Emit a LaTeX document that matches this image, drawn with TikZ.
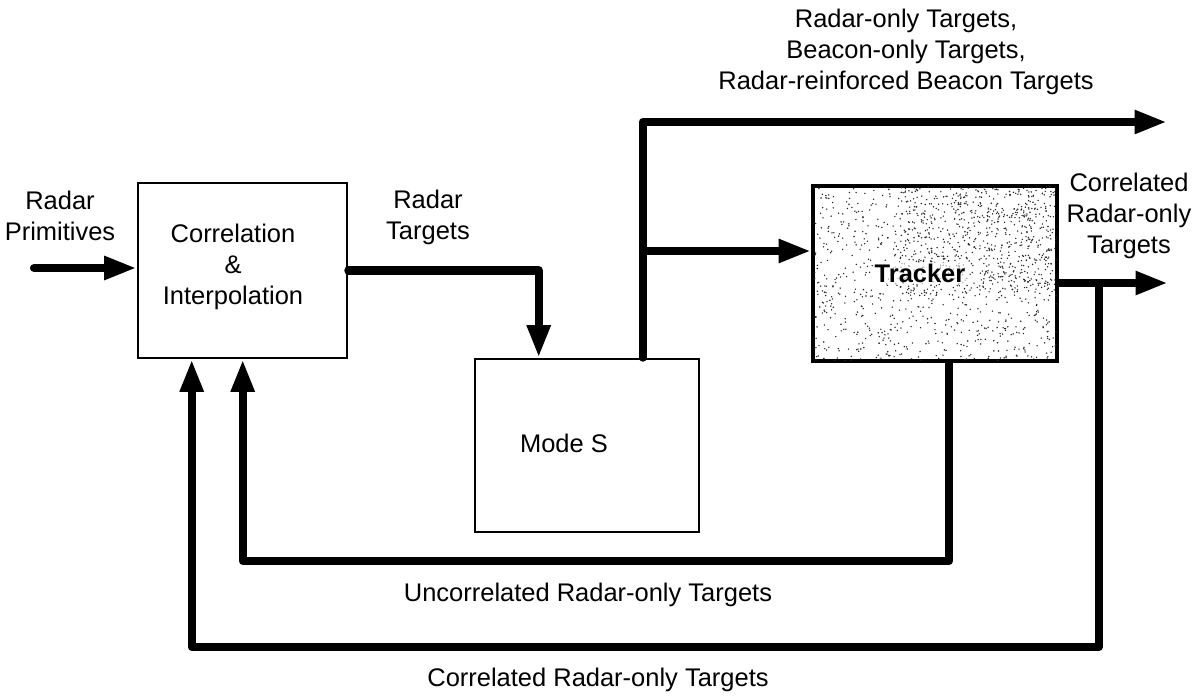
\documentclass[tikz,border=0pt]{standalone}
\usepackage{fontspec}
\setmainfont{Liberation Sans}
\usetikzlibrary{arrows.meta,calc}
\begin{document}
\begin{tikzpicture}[x=0.02cm,y=-0.02cm,
  every node/.style={font=\fontsize{14.5pt}{17.6pt}\selectfont},
  box/.style={draw,line width=1.5pt,inner sep=0pt,fill=white},
  txt/.style={align=center,inner sep=0pt},
  conn/.style={line width=4.6pt,line cap=round,line join=round},
  tip/.style={-{Triangle[length=0.65cm,width=0.44cm]}}]
\useasboundingbox (0,0) rectangle (1197,696);
% boxes
\node[box,minimum width=4.18cm,minimum height=3.5cm] (ci) at (242.5,270.5) {};
\node[box,minimum width=4.48cm,minimum height=3.46cm] (ms) at (587,445.5) {};
\node[box,line width=2.2pt,minimum width=4.88cm,minimum height=3.5cm] (tr) at (935,273.5) {};
% stipple inside tracker
\begin{scope}
  \clip ($(tr.south west)+(2,-2)$) rectangle ($(tr.north east)+(-2,2)$);
  \pgfmathsetseed{12}
  \foreach \i in {1,...,900} {
    \pgfmathsetmacro{\px}{813+244*rnd}
    \pgfmathsetmacro{\py}{186+175*rnd}
    \fill[black!85] (\px,\py) circle[radius=0.45pt];
  }
  \foreach \i in {1,...,500} {
    \pgfmathsetmacro{\px}{900+157*rnd}
    \pgfmathsetmacro{\py}{186+110*rnd}
    \fill[black!85] (\px,\py) circle[radius=0.45pt];
  }
\end{scope}
% box texts
\node[txt] (citext) at (233,267) {Correlation\\\&\\Interpolation};
\node[txt] (mstext) at (564,443) {Mode S};
\node[txt,font=\fontsize{14.5pt}{17.6pt}\selectfont\bfseries,fill=white,fill opacity=0.6,text opacity=1,inner sep=1pt] (trtext) at (920,273) {Tracker};
% labels
\node[txt] (lprim) at (60,216) {Radar\\Primitives};
\node[txt] (ltgt) at (428,217) {Radar\\Targets};
\node[txt] (ltop) at (906,52) {Radar-only Targets,\\Beacon-only Targets,\\Radar-reinforced Beacon Targets};
\node[txt] (lcorr1) at (1129,216) {Correlated\\Radar-only\\Targets};
\node[txt] (lunc) at (588,595) {Uncorrelated Radar-only Targets};
\node[txt] (lcorr2) at (598,680) {Correlated Radar-only Targets};
% coordinates
\coordinate (in0) at (34,268);
\coordinate (msin) at ($(ms.north west)+(65,0)$);
\coordinate (msout) at ($(ms.north west)+(169,0)$);
\coordinate (topend) at (1167,122);
\coordinate (br) at (644,251);
\coordinate (outend) at (1168,283);
\coordinate (cfb) at (1099,283);
\coordinate (cy) at (0,647);
\coordinate (uy) at (0,561);
\coordinate (tout) at ($(tr.south west)+(138,0)$);
\coordinate (ciin1) at ($(ci.south west)+(55,0)$);
\coordinate (ciin2) at ($(ci.south west)+(106,0)$);
% connectors
\draw[conn,tip] (in0) -- (in0 -| ci.west);
\draw[conn,tip] (ci.east) -| (msin);
\draw[conn,tip] (msout) |- (topend);
\draw[conn,tip] (br) -- (br -| tr.west);
\draw[conn,tip] (tr.east |- outend) -- (outend);
\draw[conn,tip] (cfb) -- (cfb |- cy) -| (ciin1);
\draw[conn,tip] (tout) -- (tout |- uy) -| (ciin2);
\end{tikzpicture}
\end{document}
